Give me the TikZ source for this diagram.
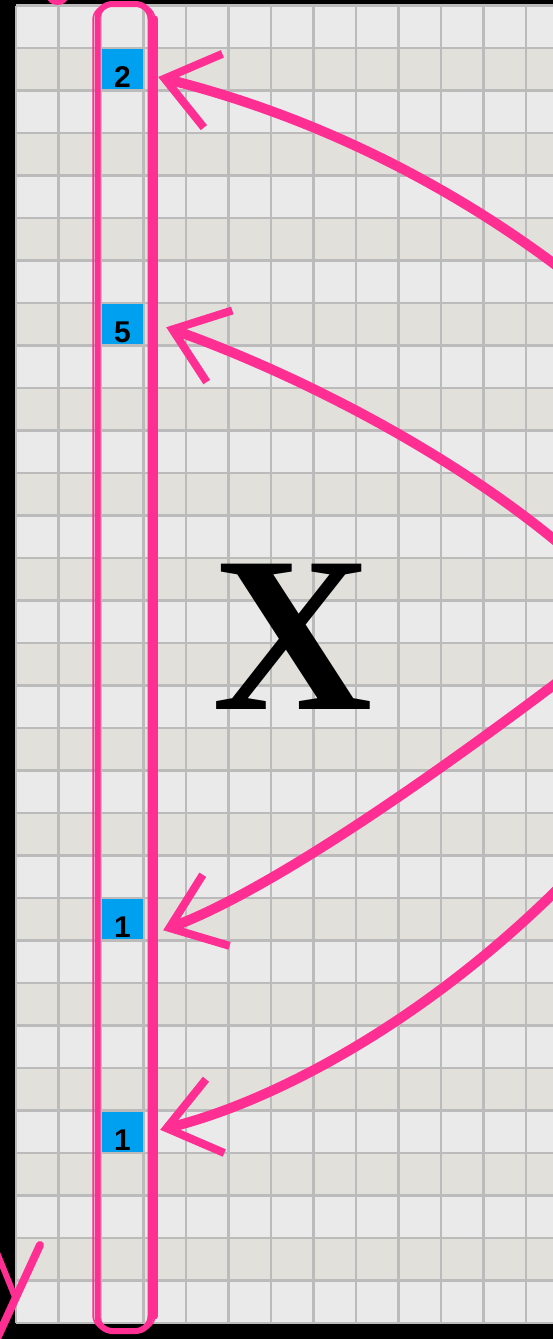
\documentclass[tikz,border=0pt]{standalone}
\usepackage{fontspec}
\usetikzlibrary{arrows.meta,positioning}
\newfontfamily\cellfont{Liberation Sans}
\newfontfamily\signfont{Liberation Serif}
\definecolor{Border}{HTML}{000000}
\definecolor{CellLight}{HTML}{EAEAEA}
\definecolor{CellDark}{HTML}{E1E0DB}
\definecolor{GridLine}{HTML}{BBBBBB}
\definecolor{HitBlue}{HTML}{00A0F0}
\definecolor{Marker}{HTML}{FF2E93}

\begin{document}
\begin{tikzpicture}[x=1pt,y=-1pt,hit/.style={fill=HitBlue,minimum width=41pt,minimum height=40pt,inner sep=0pt},digit/.style={anchor=base,inner sep=0pt,text=black,font=\cellfont\bfseries\fontsize{30}{30}\selectfont},gridline/.style={draw=GridLine,line width=2.2pt},colframe/.style={draw=Marker,line width=6pt,rounded corners=15pt,minimum width=53pt,minimum height=1327pt,inner sep=0pt},brush/.style={draw=Marker,line width=6pt,line cap=round},pointer/.style={draw=Marker,line width=10pt,line cap=round,-{Straight Barb[length=50pt,width=76pt,line width=8pt]}}]
\useasboundingbox (0,0) rectangle (553,1339);\clip (0,0) rectangle (553,1339);
\fill[Border] (0,0) rectangle (553,1339);\fill[CellLight] (16,5.5) rectangle (553,1323);
\foreach \r in {1,3,...,29} \fill[CellDark] (16,{5.5+42.5*\r}) rectangle (553,{48+42.5*\r});
\foreach \r in {0,...,31} \draw[gridline] (16,{5.5+42.5*\r}) -- (553,{5.5+42.5*\r});
\foreach \c in {0,...,13} \draw[gridline] ({16+42.5*\c},5.5) -- ({16+42.5*\c},1323);
\node[hit] (c2) at (122.5,69.25) {};\node[hit] (c5) at (122.5,324.25) {};\node[hit] (c1a) at (122.5,919.25) {};\node[hit] (c1b) at (122.5,1131.75) {};
\node[digit] (n2) at ([yshift=1.5pt]c2.south) {2};\node[digit] (n5) at ([yshift=1.5pt]c5.south) {5};\node[digit] (n1a) at ([yshift=1.5pt]c1a.south) {1};\node[digit] (n1b) at ([yshift=1.5pt]c1b.south) {1};
\node[anchor=base,inner sep=0pt,font=\signfont\bfseries\fontsize{222}{222}\selectfont] (bigx) at (292.5,709) {X};
\node[colframe] (frame) at (124,667.5) {};\node[colframe,line width=1.5pt,minimum width=62pt,minimum height=1325pt] (wisp) at (frame) {};
\draw[brush,line width=7pt] ([xshift=1pt,yshift=-18pt]frame.north east) -- ([xshift=1pt,yshift=18pt]frame.south east);
\coordinate[below right=7.75pt and 15pt of c2.east] (p2);\coordinate[below right=3pt and 23pt of c5.east] (p5);\coordinate[below right=11pt and 20pt of c1a.east] (p1a);\coordinate[above right=2pt and 17pt of c1b.east] (p1b);
\coordinate (s2) at (600,300);\coordinate (s5) at (600,580);\coordinate (s1a) at (600,650);\coordinate (s1b) at (600,845);
\draw[pointer] (s2) .. controls (480,200) and (330,120) .. (p2);\draw[pointer] (s5) .. controls (480,465) and (300,375) .. (p5);
\draw[pointer] (s1a) .. controls (430,780) and (270,890) .. (p1a);\draw[pointer] (s1b) .. controls (450,1010) and (280,1100) .. (p1b);
\fill[Marker] (57.5,-3) ellipse [x radius=10.5pt,y radius=8pt];\draw[brush,line width=8pt] (40,1245) -- (-6,1345);\draw[brush,line width=6pt] (-4,1250) -- (15,1297);
\end{tikzpicture}
\end{document}
